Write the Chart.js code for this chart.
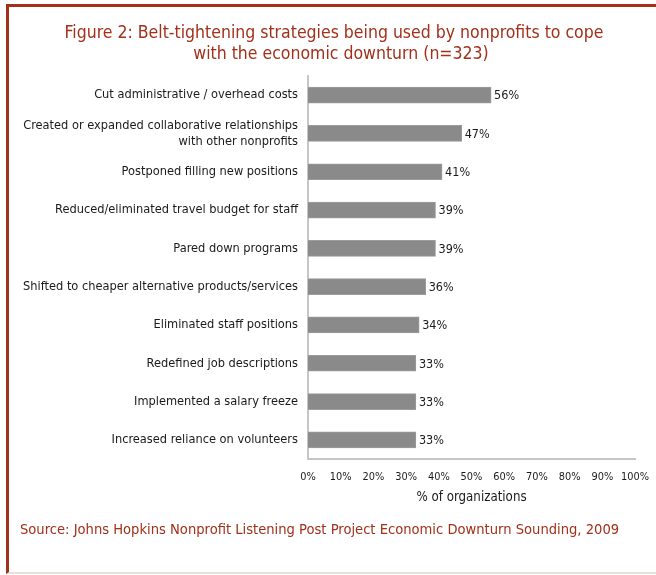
<!DOCTYPE html>
<html>
<head>
<meta charset="utf-8">
<script src="https://cdn.jsdelivr.net/npm/chart.js@4.4.1/dist/chart.umd.min.js"></script>
<style>
  html, body { margin: 0; padding: 0; background: #fff; }
  #wrap { position: relative; width: 656px; height: 575px; overflow: hidden; }
  #frame { position: absolute; left: 6px; top: 4px; width: 660px; height: 565px;
           border-left: 3px solid #a2301a; border-top: 3px solid #a2301a; border-bottom: 2px solid #eadfdb; }
  canvas { position: absolute; left: 0; top: 0; }
</style>
</head>
<body>
<div id="wrap">
  <div id="frame"></div>
  <canvas id="c" width="656" height="575"></canvas>
</div>
<script>
const titleLines = ["Figure 2: Belt-tightening strategies being used by nonprofits to cope", "with the economic downturn (n=323)"];
const sourceText = "Source: Johns Hopkins Nonprofit Listening Post Project Economic Downturn Sounding, 2009";
const categories = [
  "Cut administrative / overhead costs",
  ["Created or expanded collaborative relationships", "with other nonprofits"],
  "Postponed filling new positions",
  "Reduced/eliminated travel budget for staff",
  "Pared down programs",
  "Shifted to cheaper alternative products/services",
  "Eliminated staff positions",
  "Redefined job descriptions",
  "Implemented a salary freeze",
  "Increased reliance on volunteers"
];
const values = [56, 47, 41, 39, 39, 36, 34, 33, 33, 33];
const xTickValues = [0, 10, 20, 30, 40, 50, 60, 70, 80, 90, 100];
const xAxisTitle = "% of organizations";

const FONT = '"DejaVu Sans Condensed", "DejaVu Sans", Verdana, sans-serif';
const RED = '#a2301a';

// pick a font size so that a sample string has the width seen in the reference
const mctx = document.createElement('canvas').getContext('2d');
function fitSize(sample, width) {
  mctx.font = '20px ' + FONT;
  return Math.round(20 * width / mctx.measureText(sample).width * 10) / 10;
}
const titleSize = fitSize(titleLines[0], 539);
const sourceSize = fitSize(sourceText, 599);
const catSize = fitSize("Shifted to cheaper alternative products/services", 275);
const valSize = fitSize("56%", 25);
const tickSize = fitSize("50%", 21.7);
const axisTitleSize = fitSize(xAxisTitle, 110);

const valueLabels = {
  id: 'valueLabels',
  afterDatasetsDraw(chart) {
    const ctx = chart.ctx;
    const meta = chart.getDatasetMeta(0);
    ctx.save();
    ctx.font = valSize + 'px ' + FONT;
    ctx.fillStyle = '#1a1a1a';
    ctx.textAlign = 'left';
    ctx.textBaseline = 'middle';
    meta.data.forEach((bar, i) => {
      ctx.fillText(values[i] + '%', bar.x + 3, bar.y + 1);
    });
    ctx.restore();
  }
};

const textBlocks = {
  id: 'textBlocks',
  afterDraw(chart) {
    const ctx = chart.ctx;
    ctx.save();
    ctx.fillStyle = RED;
    ctx.font = titleSize + 'px ' + FONT;
    ctx.textAlign = 'center';
    ctx.textBaseline = 'middle';
    ctx.fillText(titleLines[0], 334, 33);
    ctx.fillText(titleLines[1], 341, 54);
    ctx.font = sourceSize + 'px ' + FONT;
    ctx.textAlign = 'left';
    ctx.fillText(sourceText, 20, 530);
    ctx.restore();
  }
};

new Chart(document.getElementById('c'), {
  type: 'bar',
  data: {
    labels: categories,
    datasets: [{
      data: values,
      backgroundColor: '#8a8a8a',
      borderColor: '#9c9c9c',
      borderWidth: 1,
      barThickness: 16
    }]
  },
  options: {
    indexAxis: 'y',
    responsive: false,
    animation: false,
    devicePixelRatio: 1,
    layout: { padding: { left: 0, right: 21, top: 76, bottom: 66 } },
    plugins: { legend: { display: false }, tooltip: { enabled: false }, title: { display: false } },
    scales: {
      x: {
        min: 0, max: 100,
        afterBuildTicks(scale) { scale.ticks = xTickValues.map(v => ({ value: v })); },
        afterFit(scale) { scale.height = 50; scale.paddingLeft = 0; scale.paddingRight = 0; },
        grid: { display: false, drawTicks: false },
        border: { display: true, color: '#c6c6c6', width: 2 },
        ticks: { padding: 12, color: '#1a1a1a', font: { family: FONT, size: tickSize }, maxRotation: 0, autoSkip: false,
                 callback: v => v + '%' },
        title: { display: true, text: xAxisTitle, color: '#1a1a1a', font: { family: FONT, size: axisTitleSize }, padding: { top: 0, bottom: 4 } }
      },
      y: {
        afterFit(scale) { scale.width = 308; },
        grid: { display: false, drawTicks: false },
        border: { display: true, color: '#c6c6c6', width: 2 },
        ticks: { padding: 10, color: '#1a1a1a', font: { family: FONT, size: catSize, lineHeight: 1.22 }, autoSkip: false }
      }
    }
  },
  plugins: [valueLabels, textBlocks]
});
</script>
</body>
</html>
